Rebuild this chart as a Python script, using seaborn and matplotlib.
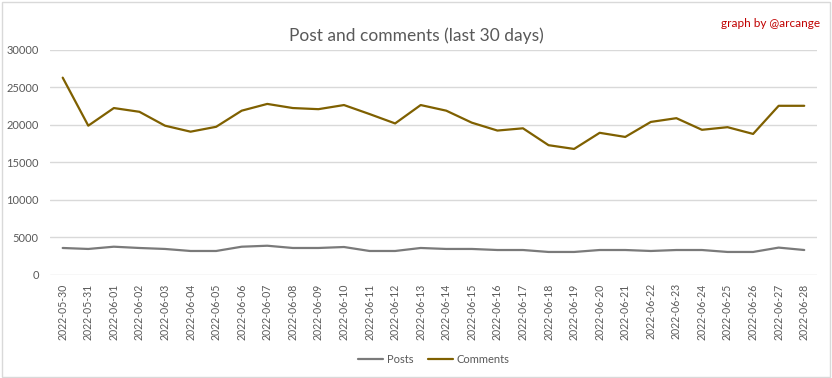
import matplotlib.pyplot as plt
import pandas as pd
import seaborn as sns
from matplotlib.patches import Rectangle

dates = [
    "2022-05-30", "2022-05-31", "2022-06-01", "2022-06-02", "2022-06-03",
    "2022-06-04", "2022-06-05", "2022-06-06", "2022-06-07", "2022-06-08",
    "2022-06-09", "2022-06-10", "2022-06-11", "2022-06-12", "2022-06-13",
    "2022-06-14", "2022-06-15", "2022-06-16", "2022-06-17", "2022-06-18",
    "2022-06-19", "2022-06-20", "2022-06-21", "2022-06-22", "2022-06-23",
    "2022-06-24", "2022-06-25", "2022-06-26", "2022-06-27", "2022-06-28",
]
posts = [
    3600, 3470, 3770, 3600, 3470, 3200, 3200, 3770, 3900, 3600,
    3600, 3730, 3200, 3200, 3600, 3470, 3470, 3330, 3330, 3070,
    3070, 3330, 3330, 3200, 3330, 3330, 3070, 3070, 3650, 3330,
]
comments = [
    26300, 19900, 22250, 21750, 19900, 19100, 19750, 21900, 22800, 22250,
    22100, 22650, 21450, 20200, 22650, 21900, 20300, 19250, 19550, 17300,
    16800, 18950, 18400, 20400, 20900, 19350, 19700, 18800, 22550, 22550,
]

df = pd.concat([
    pd.DataFrame({"date": dates, "value": posts, "series": "Posts"}),
    pd.DataFrame({"date": dates, "value": comments, "series": "Comments"}),
])

sns.set_theme(style="white")
plt.rcParams["font.family"] = ["Lato", "DejaVu Sans"]

fig = plt.figure(figsize=(8.32, 3.78), dpi=100)
ax = fig.add_axes([0.060, 0.2725, 0.922, 0.5955])

sns.lineplot(
    data=df, x="date", y="value", hue="series",
    palette={"Posts": "#7a7a7a", "Comments": "#7f6000"},
    linewidth=1.6, ax=ax, sort=False,
)

ax.set_xlim(-0.5, len(dates) - 0.5)
ax.set_ylim(0, 30000)
ax.set_yticks(range(0, 30001, 5000))
ax.yaxis.grid(True, color="#d9d9d9", linewidth=1)
ax.set_axisbelow(True)
for s in ax.spines.values():
    s.set_visible(False)
ax.tick_params(axis="y", labelsize=8, labelcolor="#595959", length=0, pad=8)
ax.tick_params(axis="x", labelsize=7.6, labelcolor="#595959", length=0, pad=6,
               rotation=90)
ax.set_xlabel(None)
ax.set_ylabel(None)

ax.legend(
    loc="upper center", bbox_to_anchor=(0.5, -0.305), ncol=2, frameon=False,
    fontsize=8, handlelength=2.3, handletextpad=0.3, columnspacing=1.3,
    labelcolor="#595959",
)

fig.text(0.5, 0.905, "Post and comments (last 30 days)", ha="center",
         va="center", fontsize=12.5, color="#595959")
fig.text(0.986, 0.937, "graph by @arcange", ha="right", va="center",
         fontsize=8.5, color="#c00000")

fig.patches.append(Rectangle((0.002, 0.003), 0.995, 0.993,
                             transform=fig.transFigure, fill=False,
                             edgecolor="#d9d9d9", linewidth=1))

plt.savefig("out.png", dpi=100)
